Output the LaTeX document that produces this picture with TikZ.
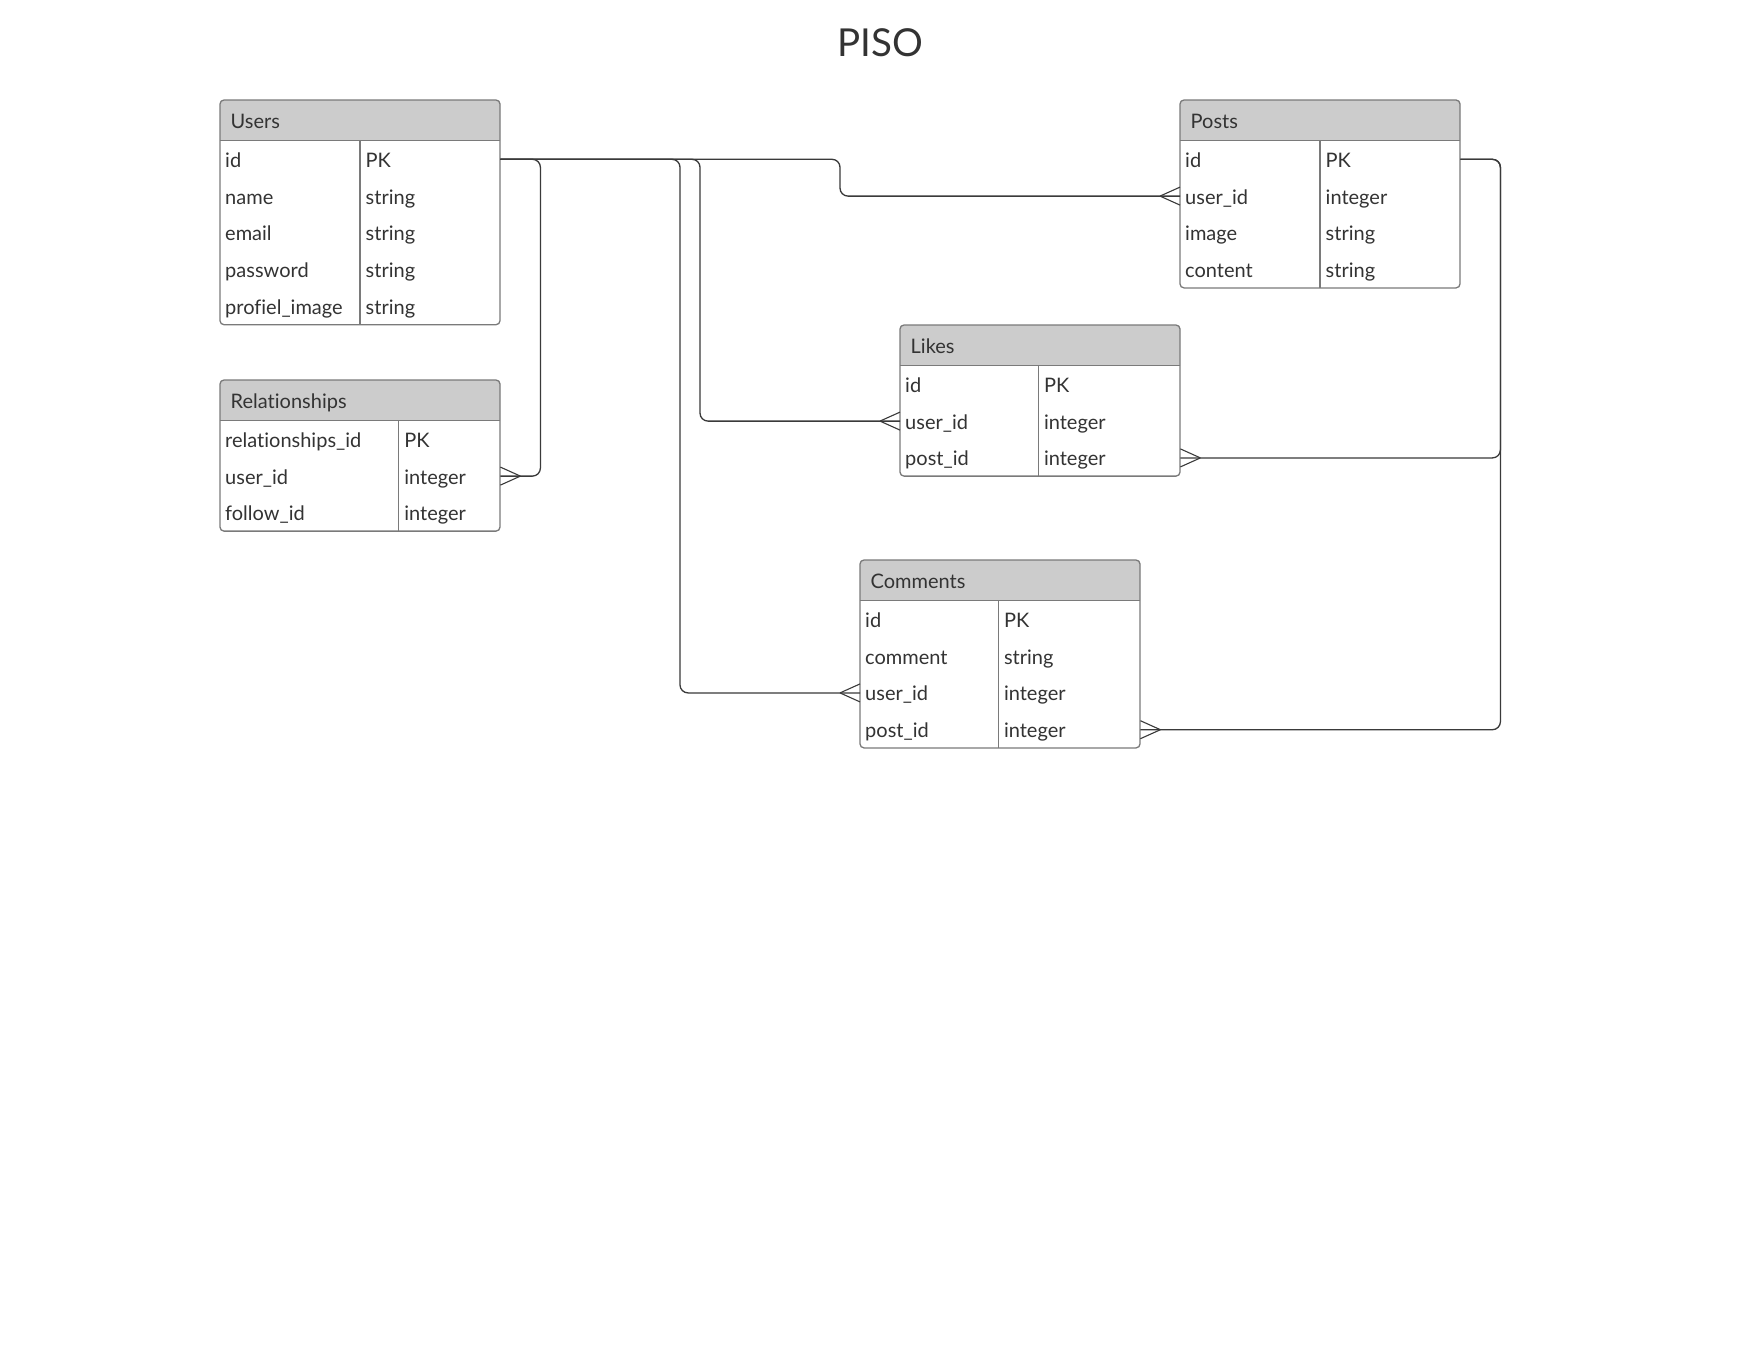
\documentclass[tikz,border=0pt]{standalone}
\usepackage{fontspec}
\setmainfont{Lato}[Ligatures={NoCommon}]
\definecolor{txt}{HTML}{333333}
\definecolor{hdrfill}{HTML}{CCCCCC}
\definecolor{tframe}{HTML}{7A7A7A}
\definecolor{link}{HTML}{3A3A3A}
\tikzset{
  cell/.style={inner sep=0pt, text=txt, font=\fontsize{20}{24}\selectfont, anchor=base west},
  rowbox/.style={inner sep=0pt, minimum height=36.8pt, anchor=north west},
  frameline/.style={draw=tframe, line width=1.3pt},
  conn/.style={draw=link, line width=1.3pt, rounded corners=8pt},
  crow/.style={draw=link, line width=1.1pt},
  titletext/.style={inner sep=0pt, text=txt, font=\fontsize{38.5}{46}\selectfont},
}
% #1 name, #2 x, #3 y, #4 width, #5 divider offset, #6 rows count, #7 title, #8 rows
\newcommand\ertab[8]{%
  \pgfmathsetmacro\tbot{#3+40.7+36.8*#6}
  \begin{scope}
    \clip ({#2},{#3}) rectangle ({#2+#4},{#3+40.7});
    \fill[hdrfill, rounded corners=4pt] ({#2},{#3}) rectangle ({#2+#4},{\tbot});
  \end{scope}
  \draw[frameline, rounded corners=4pt] ({#2},{#3}) rectangle ({#2+#4},{\tbot});
  \draw[frameline] ({#2},{#3+40.7}) -- ({#2+#4},{#3+40.7});
  \draw[frameline] ({#2+#5},{#3+40.7}) -- ({#2+#5},{\tbot});
  \node[cell] (#1) at ({#2+10.5},{#3+28.3}) {#7};
  \foreach \f/\t [count=\i] in {#8} {
    \node[rowbox, minimum width=#4pt] (#1-\i) at ({#2},{#3+40.7+36.8*(\i-1)}) {};
    \node[cell] (#1-\i-f) at ({#2+5},{#3+40.7+36.8*(\i-1)+26.5}) {\f};
    \node[cell] (#1-\i-t) at ({#2+#5+5.5},{#3+40.7+36.8*(\i-1)+26.5}) {\t};
  }
}
\newcommand\crowR[1]{\draw[crow] ([xshift=20pt]#1) -- ([yshift=9pt]#1) ([xshift=20pt]#1) -- ([yshift=-9pt]#1);}
\newcommand\crowL[1]{\draw[crow] ([xshift=-20pt]#1) -- ([yshift=9pt]#1) ([xshift=-20pt]#1) -- ([yshift=-9pt]#1);}
\begin{document}
\begin{tikzpicture}[x=1pt, y=-1pt]
\fill[white] (0,0) rectangle (1760,1360);
\useasboundingbox (0,0) rectangle (1760,1360);

\node[titletext] (title) at (880,43.2) {PISO};

\ertab{users}{220}{100}{280}{140}{5}{Users}{id/PK, name/string, email/string, password/string, profiel\_image/string}
\ertab{relationships}{220}{380}{280}{178.7}{3}{Relationships}{relationships\_id/PK, user\_id/integer, follow\_id/integer}
\ertab{posts}{1180}{100}{280}{140}{4}{Posts}{id/PK, user\_id/integer, image/string, content/string}
\ertab{likes}{900}{325}{280}{138.3}{3}{Likes}{id/PK, user\_id/integer, post\_id/integer}
\ertab{comments}{860}{560}{280}{138.3}{4}{Comments}{id/PK, comment/string, user\_id/integer, post\_id/integer}

% connectors from Users.id
\draw[conn] (users-1.east) -- ++(40,0) |- (relationships-2.east);
\draw[conn] (users-1.east) -| ([xshift=-180pt]comments-3.west) -- (comments-3.west);
\draw[conn] (users-1.east) -| ([xshift=-200pt]likes-2.west) -- (likes-2.west);
\draw[conn] (users-1.east) -| ([xshift=-340pt]posts-2.west) -- (posts-2.west);
% connectors from Posts.id
\draw[conn] (posts-1.east) -- ++(40,0) |- (likes-3.east);
\draw[conn] (posts-1.east) -- ++(40,0) |- (comments-4.east);

\crowR{relationships-2.east}
\crowL{comments-3.west}
\crowL{likes-2.west}
\crowL{posts-2.west}
\crowR{likes-3.east}
\crowR{comments-4.east}
\end{tikzpicture}
\end{document}
